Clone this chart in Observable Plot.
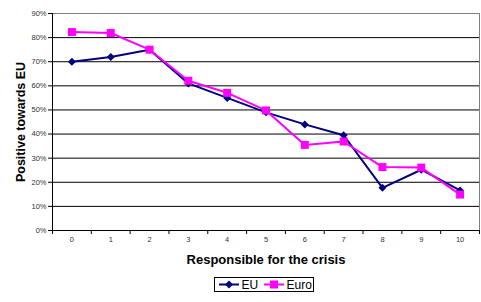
<!DOCTYPE html>
<html>
<head>
<meta charset="utf-8">
<script src="https://cdn.jsdelivr.net/npm/d3@7"></script>
<script src="https://cdn.jsdelivr.net/npm/@observablehq/plot@0.6"></script>
<style>
  body { margin: 0; background: #fff; font-family: "Liberation Sans", Arial, sans-serif; }
  #wrap { position: relative; width: 481px; height: 302px; }
  #legend { position: absolute; left: 214px; top: 277px; width: 98px; height: 13px;
            border: 1px solid #000; background: #fff; }
  #legend svg { position: absolute; left: 0; top: 0; }
</style>
</head>
<body>
<div id="wrap"></div>
<script>
const categories = [0, 1, 2, 3, 4, 5, 6, 7, 8, 9, 10];
const euValues   = [0.70, 0.72, 0.75, 0.61, 0.55, 0.49, 0.44, 0.395, 0.177, 0.252, 0.166];
const euroValues = [0.823, 0.819, 0.75, 0.621, 0.571, 0.498, 0.355, 0.369, 0.263, 0.261, 0.149];
const yTicks = [0, 0.1, 0.2, 0.3, 0.4, 0.5, 0.6, 0.7, 0.8, 0.9];
const seriesNames = ["EU", "Euro"];
const seriesColors = ["#000080", "#FF00FF"];

const eu = categories.map((c, i) => ({x: c, y: euValues[i], s: "EU"}));
const euro = categories.map((c, i) => ({x: c, y: euroValues[i], s: "Euro"}));
const boundaries = d3.range(-0.5, categories.length, 1);

const chart = Plot.plot({
  width: 481,
  height: 272,
  marginLeft: 52,
  marginRight: 2,
  marginTop: 13,
  marginBottom: 42,
  style: {fontFamily: "Liberation Sans, Arial, sans-serif", background: "#fff"},
  x: {domain: [-0.5, categories.length - 0.5], label: null},
  y: {domain: [0, 0.9], label: null},
  marks: [
    Plot.ruleY(yTicks.filter(t => t > 0 && t < 0.9), {stroke: "#000", strokeWidth: 1}),
    Plot.ruleY([0.9], {stroke: "#808080", strokeWidth: 1}),
    Plot.ruleX([categories.length - 0.5], {stroke: "#808080", strokeWidth: 1}),
    Plot.axisY({ticks: yTicks, tickFormat: d3.format(".0%"), tickSize: 4, tickPadding: 2,
                fontSize: 7.5, color: "#333", stroke: "#000", label: null}),
    Plot.axisX({ticks: categories, tickSize: 0, tickPadding: 6, fontSize: 7.5, color: "#333", label: null}),
    Plot.axisX({ticks: boundaries, tickSize: 4, tickFormat: () => "", stroke: "#000", label: null}),
    Plot.ruleY([0], {stroke: "#000", strokeWidth: 1}),
    Plot.ruleX([-0.5], {stroke: "#000", strokeWidth: 1}),
    Plot.line(eu, {x: "x", y: "y", stroke: seriesColors[0], strokeWidth: 2}),
    Plot.line(euro, {x: "x", y: "y", stroke: seriesColors[1], strokeWidth: 2}),
    Plot.dot(eu, {x: "x", y: "y", symbol: "diamond2", r: 3.6, fill: seriesColors[0], stroke: "none"}),
    Plot.dot(euro, {x: "x", y: "y", symbol: "square", r: 4.5, fill: seriesColors[1], stroke: "none"}),
    Plot.text(["Responsible for the crisis"], {frameAnchor: "bottom", dy: 33, fontSize: 13, fontWeight: "bold", fill: "#000"}),
    Plot.text(["Positive towards EU"], {frameAnchor: "left", textAnchor: "middle", dx: -32, rotate: -90, fontSize: 12.5, fontWeight: "bold", fill: "#000"})
  ]
});

document.getElementById("wrap").appendChild(chart);

// Legend below chart
const legend = document.createElement("div");
legend.id = "legend";
const ls = d3.create("svg").attr("width", 98).attr("height", 13);
const entries = [{name: seriesNames[0], color: seriesColors[0], x: 4, sym: "diamond"},
                 {name: seriesNames[1], color: seriesColors[1], x: 49, sym: "square"}];
entries.forEach(e => {
  ls.append("line").attr("x1", e.x).attr("x2", e.x + 20).attr("y1", 6.5).attr("y2", 6.5)
    .attr("stroke", e.color).attr("stroke-width", 2);
  const cx = e.x + 10;
  if (e.sym === "diamond") {
    ls.append("path").attr("d", `M${cx},2.5L${cx+4},6.5L${cx},10.5L${cx-4},6.5Z`).attr("fill", e.color);
  } else {
    ls.append("rect").attr("x", cx - 4).attr("y", 2.5).attr("width", 8).attr("height", 8).attr("fill", e.color);
  }
  ls.append("text").attr("x", e.x + 22.5).attr("y", 11).attr("font-size", 12)
    .attr("font-family", "Liberation Sans, Arial, sans-serif").text(e.name);
});
legend.appendChild(ls.node());
document.getElementById("wrap").appendChild(legend);
</script>
</body>
</html>
